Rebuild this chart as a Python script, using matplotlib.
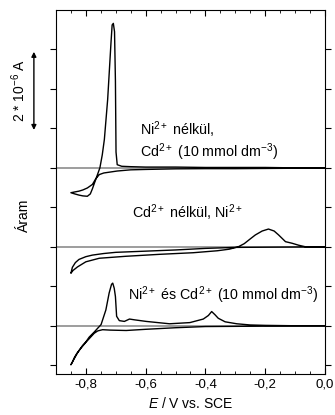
import numpy as np
import matplotlib.pyplot as plt

plt.rcParams['font.family'] = ['Liberation Sans', 'DejaVu Sans']
plt.rcParams['mathtext.fontset'] = 'custom'
plt.rcParams['mathtext.rm'] = 'Liberation Sans'
plt.rcParams['mathtext.it'] = 'Liberation Sans:italic'
plt.rcParams['mathtext.default'] = 'regular'

# aram (uA), potencial (V vs. SCE); minden gorbe sajat alapvonallal
# Ni nelkul, Cd 10 mmol dm-3  -> alapvonal 4
cd_fw_E = [0.0, -0.1, -0.2, -0.3, -0.4, -0.5, -0.6, -0.65, -0.695, -0.722, -0.74,
           -0.755, -0.767, -0.778, -0.795, -0.81, -0.823, -0.837, -0.85]
cd_fw_I = [-0.01, -0.01, -0.015, -0.02, -0.02, -0.025, -0.04, -0.05, -0.08, -0.11, -0.13,
           -0.17, -0.28, -0.42, -0.51, -0.56, -0.59, -0.61, -0.63]
cd_bw_E = [-0.85, -0.837, -0.823, -0.81, -0.795, -0.785, -0.778, -0.77, -0.761, -0.753,
           -0.745, -0.738, -0.727, -0.716, -0.712, -0.708, -0.704, -0.701, -0.699, -0.695,
           -0.68, -0.65, -0.6, -0.5, -0.4, -0.3, -0.2, -0.1, 0.0]
cd_bw_I = [-0.63, -0.66, -0.69, -0.71, -0.72, -0.66, -0.53, -0.36, -0.17, 0.0,
           0.33, 0.72, 1.73, 3.15, 3.62, 3.66, 3.45, 2.2, 0.4, 0.08,
           0.04, 0.03, 0.02, 0.02, 0.01, 0.01, 0.01, 0.0, 0.0]

# Cd nelkul, Ni -> alapvonal 2
ni_fw_E = [0.0, -0.1, -0.2, -0.3, -0.4, -0.45, -0.5, -0.55, -0.6, -0.65, -0.7, -0.74,
           -0.778, -0.8, -0.823, -0.835, -0.845, -0.85]
ni_fw_I = [0.0, -0.005, -0.01, -0.015, -0.04, -0.06, -0.08, -0.095, -0.11, -0.125, -0.14, -0.17,
           -0.21, -0.25, -0.32, -0.4, -0.52, -0.67]
ni_bw_E = [-0.85, -0.843, -0.828, -0.8, -0.755, -0.666, -0.552, -0.441, -0.36, -0.32, -0.29,
           -0.27, -0.25, -0.233, -0.21, -0.189, -0.17, -0.155, -0.132, -0.11, -0.088, -0.065,
           -0.03, 0.0]
ni_bw_I = [-0.67, -0.6, -0.51, -0.38, -0.29, -0.24, -0.19, -0.15, -0.1, -0.06, 0.0,
           0.08, 0.2, 0.3, 0.4, 0.45, 0.4, 0.3, 0.13, 0.09, 0.04, 0.0,
           0.0, 0.0]

# Ni es Cd (10 mmol dm-3) -> alapvonal 0
nicd_fw_E = [0.0, -0.1, -0.2, -0.3, -0.4, -0.5, -0.6, -0.665, -0.72, -0.744, -0.76, -0.772,
             -0.789, -0.8, -0.811, -0.82, -0.828, -0.84, -0.85]
nicd_fw_I = [0.0, 0.0, -0.01, -0.015, -0.02, -0.05, -0.09, -0.12, -0.11, -0.10, -0.13, -0.19,
             -0.33, -0.42, -0.52, -0.60, -0.69, -0.85, -0.99]
nicd_bw_E = [-0.85, -0.845, -0.838, -0.83, -0.82, -0.811, -0.8, -0.789, -0.772, -0.76, -0.749,
             -0.733, -0.722, -0.714, -0.710, -0.705, -0.701, -0.697, -0.688, -0.671, -0.654,
             -0.637, -0.598, -0.52, -0.452, -0.407, -0.39, -0.379, -0.368, -0.357, -0.334,
             -0.295, -0.25, -0.2, -0.1, 0.0]
nicd_bw_I = [-0.99, -0.92, -0.8, -0.7, -0.6, -0.5, -0.41, -0.29, -0.16, -0.06, 0.03,
             0.40, 0.83, 1.05, 1.08, 0.95, 0.74, 0.24, 0.13, 0.11, 0.17,
             0.15, 0.11, 0.05, 0.08, 0.17, 0.26, 0.36, 0.28, 0.19, 0.10,
             0.05, 0.02, 0.01, 0.0, 0.0]

baselines = [4, 2, 0]
xticks = [-0.8, -0.6, -0.4, -0.2, 0.0]
xticklabels = ['-0,8', '-0,6', '-0,4', '-0,2', '0,0']

fig = plt.figure(figsize=(3.35, 4.15), dpi=100)
ax = fig.add_axes([0.167, 0.099, 0.803, 0.877])

for b in baselines:
    ax.axhline(b, color='#8c8c8c', lw=1.2, zorder=1)

curves = [(cd_fw_E, cd_fw_I, cd_bw_E, cd_bw_I, 4),
          (ni_fw_E, ni_fw_I, ni_bw_E, ni_bw_I, 2),
          (nicd_fw_E, nicd_fw_I, nicd_bw_E, nicd_bw_I, 0)]
for fE, fI, bE, bI, off in curves:
    E = np.array(fE + bE)
    I = np.array(fI + bI) + off
    ax.plot(E, I, color='black', lw=1.0, zorder=2)

fs = 10.3
ax.text(-0.62, 4.96, r'Ni$^{2+}$ nélkül,', fontsize=fs, va='center')
ax.text(-0.62, 4.40, r'Cd$^{2+}$ (10 mmol dm$^{-3}$)', fontsize=fs, va='center')
ax.text(-0.647, 2.86, r'Cd$^{2+}$ nélkül, Ni$^{2+}$', fontsize=fs, va='center')
ax.text(-0.66, 0.78, r'Ni$^{2+}$ és Cd$^{2+}$ (10 mmol dm$^{-3}$)', fontsize=fs, va='center')

ax.set_xlim(-0.9, 0.0)
ax.set_ylim(-1.22, 8.0)
ax.set_xticks(xticks)
ax.set_xticklabels(xticklabels, fontsize=9.5)
ax.set_xticks(np.arange(-0.85, 0.0, 0.05), minor=True)
ax.set_yticks(np.arange(-1, 8, 1))
ax.set_yticklabels([])
ax.tick_params(axis='x', which='both', direction='in', top=True)
ax.tick_params(axis='x', which='major', length=4)
ax.tick_params(axis='x', which='minor', length=2.5)
ax.tick_params(axis='y', direction='out', right=True, length=4)

ax.set_xlabel(r'$\mathit{E}$ / V vs. SCE', fontsize=10)
ax.set_ylabel('Áram', fontsize=10)
ax.yaxis.set_label_coords(-0.093, 0.435)

# skala nyil: 2 uA
ax.annotate('', xy=(-0.082, 4.96), xytext=(-0.082, 6.94),
            xycoords=('axes fraction', 'data'), textcoords=('axes fraction', 'data'),
            arrowprops=dict(arrowstyle='<|-|>', color='black', lw=1.0,
                            mutation_scale=7, shrinkA=0, shrinkB=0),
            annotation_clip=False)
ax.text(-0.14, 5.95, r'2 * 10$^{-6}$ A', transform=ax.get_yaxis_transform(),
        rotation=90, fontsize=10, ha='center', va='center')

fig.savefig('out.png', dpi=100)
